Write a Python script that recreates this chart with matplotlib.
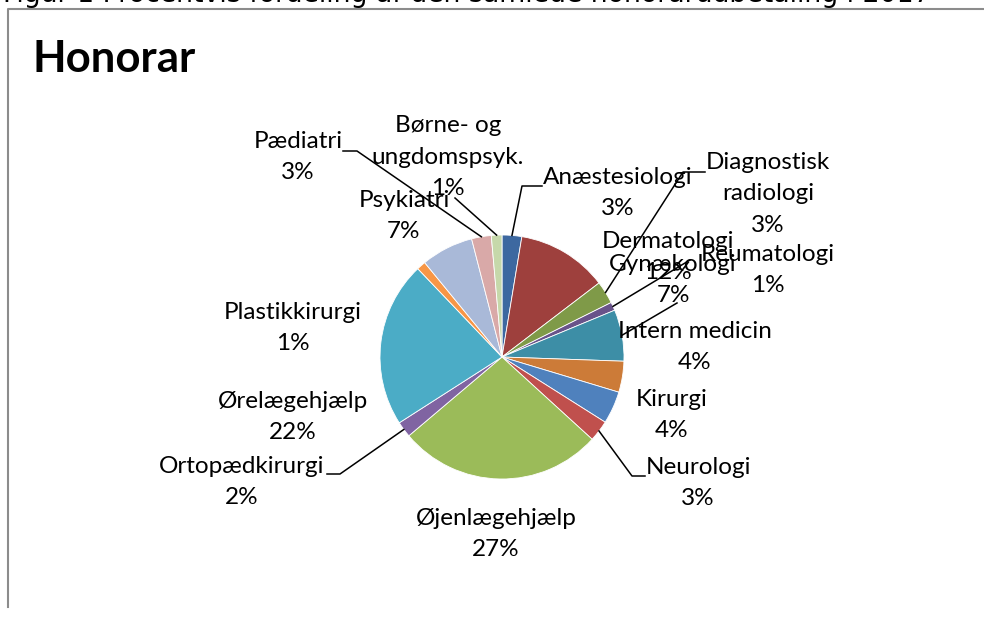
import numpy as np
import matplotlib
matplotlib.use("Agg")
import matplotlib.pyplot as plt

# data, clockwise from 12 o'clock
specialer = ["Anæstesiologi", "Dermatologi", "Diagnostisk\nradiologi", "Reumatologi",
             "Gynækologi", "Intern medicin", "Kirurgi", "Neurologi", "Øjenlægehjælp",
             "Ortopædkirurgi", "Ørelægehjælp", "Plastikkirurgi", "Psykiatri",
             "Pædiatri", "Børne- og\nungdomspsyk."]
andel = [2.6, 12.0, 3.0, 1.1, 6.8, 4.1, 4.3, 2.8, 27.0, 2.1, 21.9, 1.2, 6.9, 2.6, 1.4]
farver = ["#3D68A0", "#9E403D", "#7F9A48", "#69538A", "#3D8EA6", "#CC7B38",
          "#4F81BD", "#C0504D", "#9BBB59", "#8064A2", "#4BACC6", "#F79646",
          "#A9B9D8", "#D9A9A8", "#C6D8AA"]

# label placement (pixels from top left) and leader lines
label_pos = [(618, 193), (668, 257), (768, 194), (768, 270), (673, 280), (695, 347),
             (672, 415), (698, 483), (496, 534), (242, 482), (293, 417), (293, 328),
             (404, 216), (298, 157), (448, 157)]
leaders = {0: [(522, 186), (542, 186)],
           2: [(683, 172), (705, 172)],
           3: [(690, 260)],
           4: [(677, 303)],
           7: [(632, 476), (645, 476)],
           9: [(340, 474), (327, 474)],
           13: [(357, 151), (343, 151)],
           14: [(455, 198)]}

W, H = 984, 617
fig = plt.figure(figsize=(W / 100, H / 100), dpi=100, facecolor='w')
ax = fig.add_axes([0, 0, 1, 1])

wedges, _ = ax.pie(andel, colors=farver, startangle=-90, counterclock=True,
                   center=(502, 357), radius=122,
                   wedgeprops=dict(edgecolor='white', linewidth=0.6))
ax.set_xlim(0, W)
ax.set_ylim(H, 0)
ax.set_aspect('auto')
ax.axis('off')

total = sum(andel)
for i, (navn, v) in enumerate(zip(specialer, andel)):
    x, y = label_pos[i]
    ax.text(x, y, "%s\n%d%%" % (navn, round(v / total * 100)), ha='center', va='center',
            fontsize=17.5, family='Lato', linespacing=1.6, color='black', zorder=5)

for i, pts in leaders.items():
    w = wedges[i]
    mid = np.deg2rad((w.theta1 + w.theta2) / 2)
    sx = w.center[0] + w.r * np.cos(mid)
    sy = w.center[1] + w.r * np.sin(mid)
    xs = [sx] + [p[0] for p in pts]
    ys = [sy] + [p[1] for p in pts]
    ax.plot(xs, ys, color='black', linewidth=1.1, zorder=4)

# titel og ramme
ax.text(33, 72, "Honorar", fontsize=31.5, family='Lato', fontweight='bold',
        ha='left', va='baseline')
ax.text(3, 2, "Figur 1 Procentvis fordeling af den samlede honorarudbetaling i 2017",
        fontsize=19.3, family='DejaVu Sans', ha='left', va='baseline')
ax.plot([8, 8, W], [607, 8.5, 8.5], color='#8c8c8c', linewidth=1.5)

plt.savefig('out.png', dpi=100, facecolor='w')
